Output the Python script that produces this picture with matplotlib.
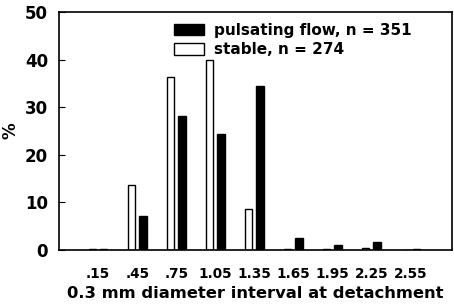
import numpy as np
import matplotlib
matplotlib.use("Agg")
import matplotlib.pyplot as plt
from matplotlib.patches import Patch

# ── Data ─────────────────────────────────────────────────────
categories = [".15", ".45", ".75", "1.05", "1.35", "1.65", "1.95", "2.25", "2.55"]
stable     = [0.2, 13.6, 36.3, 40.0, 8.6, 0.2, 0.2, 0.5, 0.0]
pulsating  = [0.3, 7.1, 28.2, 24.3, 34.5, 2.6, 1.05, 1.75, 0.3]

plt.rcParams["font.family"] = ["DejaVu Sans"]
plt.rcParams["font.weight"] = "bold"

fig = plt.figure(figsize=(4.54, 3.07), dpi=100)
ax = fig.add_axes([59 / 454, 1 - 250 / 307, 393 / 454, 238 / 307])

x = np.arange(len(categories))
ax.bar(x - 0.15, stable, 0.18, color="white", edgecolor="black", lw=1.0)
ax.bar(x + 0.14, pulsating, 0.2, color="black", edgecolor="black", lw=1.0)

ax.set_xlim(-1.0, 9.05)
ax.set_ylim(0, 50)
ax.set_yticks([0, 10, 20, 30, 40, 50])
ax.set_xticks(x)
ax.set_xticklabels(categories)
ax.tick_params(axis="x", length=0, pad=12, labelsize=9.8)
ax.tick_params(axis="y", direction="in", length=4, pad=8, labelsize=12)
for lbl in ax.get_xticklabels() + ax.get_yticklabels():
    lbl.set_fontweight("bold")
for s in ax.spines.values():
    s.set_linewidth(1.2)

ax.set_xlabel("0.3 mm diameter interval at detachment", fontsize=11.8,
              fontweight="bold")
ax.xaxis.set_label_coords(0.5, -0.15)
ax.set_ylabel("%", fontsize=12, fontweight="bold")
ax.yaxis.set_label_coords(-0.1, 0.5)

handles = [Patch(facecolor="black", edgecolor="black", label="pulsating flow, n = 351"),
           Patch(facecolor="white", edgecolor="black", label="stable, n = 274")]
ax.legend(handles=handles, loc="upper left", bbox_to_anchor=(0.265, 1.0),
          frameon=False, prop={"weight": "bold", "size": 11},
          handlelength=2.0, handleheight=0.75, handletextpad=0.6,
          labelspacing=0.3, borderaxespad=0.3)

fig.savefig("out.png", dpi=100)
